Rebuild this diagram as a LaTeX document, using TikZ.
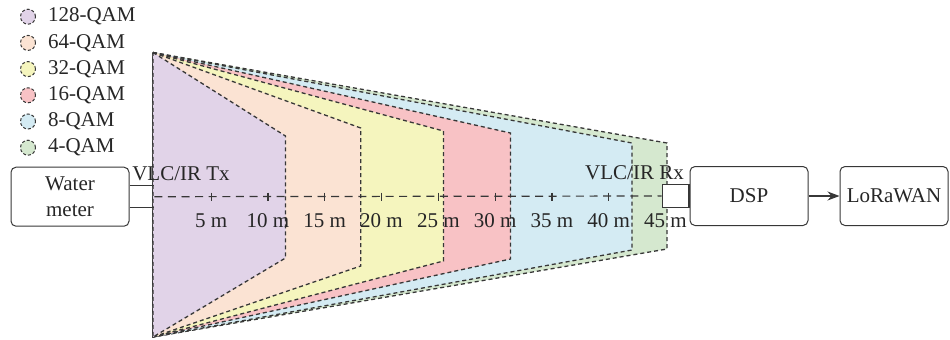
\documentclass[tikz,border=0pt]{standalone}
\usepackage{fontspec}
\setmainfont{Liberation Serif}
\usetikzlibrary{positioning,arrows.meta}

\definecolor{qamA}{RGB}{225,211,232}
\definecolor{qamB}{RGB}{251,227,211}
\definecolor{qamC}{RGB}{245,245,190}
\definecolor{qamD}{RGB}{248,194,197}
\definecolor{qamE}{RGB}{212,235,243}
\definecolor{qamF}{RGB}{213,232,207}
\definecolor{edge}{RGB}{55,55,55}

\begin{document}
\begin{tikzpicture}[x=0.5pt, y=-0.5pt, every node/.style={font=\fontsize{10.5}{13}\selectfont, text=black!85}]
\tikzstyle{blk}=[draw=edge, rounded corners=2.5pt, minimum width=59pt, minimum height=29.5pt, align=center, line width=0.5pt]
\tikzstyle{zone}=[draw=edge, dash pattern=on 2pt off 1.5pt, line width=0.65pt]
\tikzstyle{port}=[draw=edge, line width=0.6pt, inner sep=0pt]
\useasboundingbox (0,0) rectangle (950,339);

% coverage per modulation, widest first
\foreach \c/\x/\t/\b in {qamF/667/143/249, qamE/632/143/250, qamD/510.5/133/259, qamC/443.5/131/261, qamB/360.7/128/266, qamA/285.5/136/258}
  \filldraw[zone, fill=\c] (153,52.5) -- (\x,\t) -- (\x,\b) -- (153,337) -- cycle;

% legend
\foreach \c/\l [count=\i from 0] in {qamA/128-QAM, qamB/64-QAM, qamC/32-QAM, qamD/16-QAM, qamE/8-QAM, qamF/4-QAM} {
  \node[circle, draw=edge, dash pattern=on 1.5pt off 1pt, line width=0.5pt, fill=\c, minimum size=7.5pt, inner sep=0pt] (leg\i) at (28,16.7+26.2*\i) {};
  \node[right=2.5pt of leg\i] {\l};
}

% blocks
\node[blk] (meter) at (70,196.7) {Water\\meter};
\node[inner sep=0pt, minimum width=12pt, minimum height=10.5pt, anchor=west] (tx) at (meter.east) {};
\draw[port] (tx.north west) -- (tx.north east) (tx.south west) -- (tx.south east);
\node[blk] (dsp) at (749,196) {DSP};
\node[port, fill=white, minimum width=13.3pt, minimum height=11.5pt, anchor=east] (rx) at (dsp.west) {};
\node[blk, minimum width=54pt] (lora) at (894,196) {LoRaWAN};
\node at (181,174) {VLC/IR Tx};
\node at (634.5,173) {VLC/IR Rx};

% link axis with distance marks
\draw[edge, line width=0.6pt, dash pattern=on 4pt off 2.8pt] (tx.east) -- (rx.west);
\foreach \k in {1,...,8}
  \draw[edge, line width=0.6pt] ([shift={(56.8*\k,-4)}]tx.east) -- ++(0,8);
\foreach \k [evaluate=\k as \d using int(5*\k)] in {1,...,9}
  \node at ([shift={(56.8*\k,24)}]tx.east) {\d\ m};

\draw[-{Stealth[length=6pt,width=4.5pt]}, edge, line width=0.6pt] (dsp) -- (lora);
\end{tikzpicture}
\end{document}
